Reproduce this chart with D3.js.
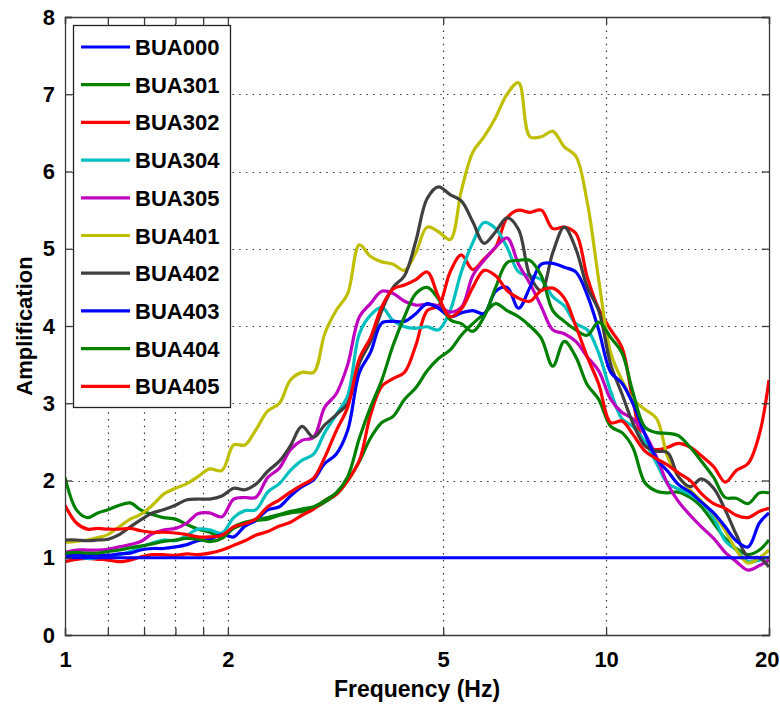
<!DOCTYPE html>
<html>
<head>
<meta charset="utf-8">
<script src="https://cdn.jsdelivr.net/npm/d3@7"></script>
<style>
  html, body { margin: 0; padding: 0; background: #fff; }
  svg { display: block; font-family: "Liberation Sans", Arial, Helvetica, sans-serif; }
</style>
</head>
<body>
<div id="chart"></div>
<script>
// Site amplification spectra, one curve per station
const freqHz = [
  1.00, 1.05, 1.10, 1.15, 1.20, 1.26, 1.32, 1.38, 1.45, 1.52, 1.60, 1.68, 1.76,
  1.85, 1.95, 2.05, 2.15, 2.25, 2.37, 2.49, 2.61, 2.74, 2.88, 3.02, 3.17, 3.33,
  3.50, 3.67, 3.85, 4.04, 4.24, 4.45, 4.67, 4.90, 5.15, 5.40, 5.67, 5.95, 6.25,
  6.56, 6.89, 7.23, 7.59, 7.97, 8.37, 8.79, 9.23, 9.69, 10.2, 10.7, 11.2, 11.8,
  12.4, 13.0, 13.6, 14.3, 15.0, 15.8, 16.6, 17.4, 18.3, 19.2, 20.0
];

const bua000Freq = [1, 20];
const bua000 = [1.0, 1.0];

const bua301 = [
  2.04, 1.62, 1.52, 1.58, 1.62, 1.68, 1.71, 1.62, 1.56, 1.52, 1.50, 1.43, 1.37,
  1.33, 1.27, 1.38, 1.44, 1.48, 1.50, 1.55, 1.58, 1.60, 1.64, 1.72, 1.82, 2.00,
  2.25, 2.55, 2.75, 2.83, 3.05, 3.20, 3.42, 3.58, 3.69, 3.88, 4.03, 4.16, 4.29,
  4.20, 4.12, 4.00, 3.84, 3.48, 3.80, 3.60, 3.24, 3.05, 2.70, 2.62, 2.43, 1.97,
  1.86, 1.84, 1.85, 1.78, 1.66, 1.45, 1.25, 1.12, 1.04, 1.10, 1.23
];

const bua302 = [
  0.95, 0.98, 0.99, 0.98, 0.97, 0.95, 0.97, 1.01, 1.04, 1.04, 1.03, 1.05, 1.04,
  1.06, 1.10, 1.16, 1.22, 1.29, 1.34, 1.41, 1.46, 1.55, 1.63, 1.74, 1.82, 2.00,
  2.26, 2.85, 3.22, 3.32, 3.40, 3.75, 4.20, 4.26, 4.70, 4.92, 4.73, 4.87, 5.02,
  5.40, 5.50, 5.47, 5.50, 5.26, 5.28, 5.20, 4.63, 4.22, 3.95, 3.72, 3.05, 2.45,
  2.40, 2.43, 2.48, 2.43, 2.32, 2.18, 1.98, 2.13, 2.22, 2.60, 3.30
];

const bua304 = [
  1.05, 1.02, 0.99, 1.00, 1.02, 1.04, 1.08, 1.14, 1.19, 1.23, 1.22, 1.29, 1.37,
  1.36, 1.32, 1.52, 1.61, 1.62, 1.85, 1.96, 2.13, 2.26, 2.34, 2.62, 2.85, 3.10,
  3.90, 4.14, 4.24, 4.07, 3.99, 3.97, 3.99, 3.95, 4.20, 4.70, 5.08, 5.34, 5.26,
  5.02, 4.70, 4.65, 4.60, 4.38, 4.26, 4.03, 3.95, 3.65, 3.15, 2.80, 2.70, 2.50,
  2.22, 1.96, 1.89, 1.82, 1.72, 1.52, 1.22, 1.10, 0.95, 0.97, 1.01
];

const bua305 = [
  1.07, 1.10, 1.10, 1.10, 1.11, 1.14, 1.17, 1.21, 1.31, 1.36, 1.38, 1.45, 1.57,
  1.58, 1.53, 1.76, 1.78, 1.78, 2.04, 2.16, 2.40, 2.52, 2.56, 2.95, 3.12, 3.50,
  4.12, 4.29, 4.45, 4.42, 4.32, 4.27, 4.28, 4.26, 4.18, 4.24, 4.65, 4.85, 5.02,
  5.14, 4.80, 4.55, 4.25, 3.95, 3.90, 3.80, 3.60, 3.42, 3.05, 2.88, 2.80, 2.60,
  2.30, 1.95, 1.73, 1.55, 1.40, 1.25, 1.07, 0.95, 0.84, 0.90, 0.97
];

const bua401 = [
  1.20, 1.21, 1.23, 1.26, 1.30, 1.40, 1.50, 1.56, 1.68, 1.82, 1.90, 1.96, 2.05,
  2.15, 2.13, 2.46, 2.46, 2.65, 2.90, 3.00, 3.30, 3.40, 3.40, 3.90, 4.20, 4.42,
  5.05, 4.90, 4.83, 4.80, 4.72, 4.95, 5.28, 5.22, 5.12, 5.75, 6.25, 6.45, 6.70,
  7.00, 7.15, 6.45, 6.45, 6.52, 6.32, 6.20, 5.60, 4.60, 3.65, 3.30, 3.05, 2.92,
  2.80, 2.30, 2.05, 1.88, 1.73, 1.57, 1.35, 1.10, 0.93, 1.00, 1.10
];

const bua402 = [
  1.23, 1.23, 1.22, 1.23, 1.24, 1.30, 1.40, 1.49, 1.58, 1.62, 1.68, 1.75, 1.76,
  1.76, 1.80, 1.90, 1.88, 1.95, 2.12, 2.25, 2.45, 2.70, 2.56, 2.72, 2.85, 3.00,
  3.52, 3.80, 4.20, 4.50, 4.65, 5.10, 5.65, 5.80, 5.70, 5.62, 5.35, 5.07, 5.22,
  5.40, 5.25, 4.65, 4.46, 4.95, 5.28, 5.00, 4.50, 4.20, 3.50, 3.12, 2.75, 2.45,
  2.38, 2.36, 2.05, 1.92, 2.02, 1.90, 1.62, 1.30, 1.01, 1.00, 0.88
];

const bua403 = [
  1.02, 1.04, 1.03, 1.04, 1.03, 1.05, 1.06, 1.10, 1.12, 1.12, 1.14, 1.17, 1.22,
  1.24, 1.30, 1.27, 1.41, 1.48, 1.62, 1.66, 1.80, 1.92, 2.01, 2.22, 2.34, 2.65,
  3.40, 3.66, 4.04, 4.06, 4.06, 4.16, 4.29, 4.23, 4.12, 4.17, 4.20, 4.16, 4.45,
  4.50, 4.23, 4.50, 4.80, 4.81, 4.76, 4.70, 4.40, 3.95, 3.40, 3.26, 3.00, 2.60,
  2.28, 2.12, 1.95, 1.85, 1.72, 1.58, 1.40, 1.22, 1.14, 1.45, 1.58
];

const bua404 = [
  1.06, 1.07, 1.06, 1.06, 1.08, 1.10, 1.13, 1.15, 1.18, 1.21, 1.23, 1.25, 1.24,
  1.21, 1.25, 1.40, 1.46, 1.49, 1.52, 1.56, 1.60, 1.63, 1.66, 1.74, 1.84, 2.05,
  2.55, 2.95, 3.30, 3.75, 4.12, 4.42, 4.50, 4.35, 4.08, 4.03, 3.93, 4.12, 4.50,
  4.82, 4.85, 4.85, 4.65, 4.20, 4.06, 3.95, 3.88, 4.05, 3.85, 3.65, 3.15, 2.69,
  2.62, 2.61, 2.58, 2.43, 2.25, 2.04, 1.78, 1.77, 1.70, 1.84, 1.84
];

const bua405 = [
  1.68, 1.45, 1.37, 1.38, 1.37, 1.37, 1.38, 1.35, 1.33, 1.33, 1.32, 1.30, 1.27,
  1.27, 1.29, 1.40, 1.44, 1.50, 1.66, 1.75, 1.85, 1.94, 2.03, 2.30, 2.64, 2.95,
  3.58, 3.85, 4.25, 4.48, 4.53, 4.60, 4.70, 4.38, 4.12, 4.22, 4.50, 4.72, 4.65,
  4.46, 4.36, 4.32, 4.46, 4.49, 4.36, 4.00, 3.60, 3.25, 2.75, 2.77, 2.60, 2.38,
  2.28, 2.20, 2.10, 2.00, 1.83, 1.70, 1.64, 1.55, 1.52, 1.60, 1.64
];

const stationNames = ["BUA000", "BUA301", "BUA302", "BUA304", "BUA305",
                      "BUA401", "BUA402", "BUA403", "BUA404", "BUA405"];
const stationColors = ["#0000ff", "#008000", "#ff0000", "#00bfbf", "#bf00bf",
                       "#bfbf00", "#404040", "#0000ff", "#008000", "#ff0000"];

const xTicks = [1, 1.2, 1.4, 1.6, 1.8, 2, 5, 10, 20];
const xTickLabels = ["1", "", "", "", "", "2", "5", "10", "20"];
const yTicks = [0, 1, 2, 3, 4, 5, 6, 7, 8];

const series = [
  { name: stationNames[0], color: stationColors[0], freq: bua000Freq, amp: bua000 },
  { name: stationNames[1], color: stationColors[1], freq: freqHz, amp: bua301 },
  { name: stationNames[2], color: stationColors[2], freq: freqHz, amp: bua302 },
  { name: stationNames[3], color: stationColors[3], freq: freqHz, amp: bua304 },
  { name: stationNames[4], color: stationColors[4], freq: freqHz, amp: bua305 },
  { name: stationNames[5], color: stationColors[5], freq: freqHz, amp: bua401 },
  { name: stationNames[6], color: stationColors[6], freq: freqHz, amp: bua402 },
  { name: stationNames[7], color: stationColors[7], freq: freqHz, amp: bua403 },
  { name: stationNames[8], color: stationColors[8], freq: freqHz, amp: bua404 },
  { name: stationNames[9], color: stationColors[9], freq: freqHz, amp: bua405 }
];

const width = 780;
const height = 704;
const margin = { top: 17, right: 11, bottom: 69, left: 65 };

const svg = d3.select("#chart")
  .append("svg")
  .attr("width", width)
  .attr("height", height);

svg.append("rect")
  .attr("width", width)
  .attr("height", height)
  .attr("fill", "#fff");

const x = d3.scaleLog()
  .domain([1, 20])
  .range([margin.left, width - margin.right]);

const y = d3.scaleLinear()
  .domain([0, 8])
  .range([height - margin.bottom, margin.top]);

const plotLeft = margin.left;
const plotRight = width - margin.right;
const plotTop = margin.top;
const plotBottom = height - margin.bottom;

// dotted grid
const grid = svg.append("g")
  .attr("stroke", "#333")
  .attr("stroke-width", 1.2)
  .attr("stroke-dasharray", "1.5,5.2");

grid.selectAll("line.gx")
  .data(xTicks.filter(t => t > 1 && t < 20))
  .join("line")
  .attr("class", "gx")
  .attr("x1", d => Math.round(x(d)) + 0.5)
  .attr("x2", d => Math.round(x(d)) + 0.5)
  .attr("y1", plotTop)
  .attr("y2", plotBottom);

grid.selectAll("line.gy")
  .data(yTicks.filter(t => t > 0 && t < 8))
  .join("line")
  .attr("class", "gy")
  .attr("x1", plotLeft)
  .attr("x2", plotRight)
  .attr("y1", d => Math.round(y(d)) + 0.5)
  .attr("y2", d => Math.round(y(d)) + 0.5);

// curves
const line = d3.line()
  .x(d => x(d[0]))
  .y(d => y(d[1]))
  .curve(d3.curveCatmullRom.alpha(0.5));

svg.append("clipPath")
  .attr("id", "plot-clip")
  .append("rect")
  .attr("x", plotLeft)
  .attr("y", plotTop)
  .attr("width", plotRight - plotLeft)
  .attr("height", plotBottom - plotTop);

const drawOrder = series.slice(1).concat(series[0]);

svg.append("g")
  .attr("clip-path", "url(#plot-clip)")
  .selectAll("path")
  .data(drawOrder)
  .join("path")
  .attr("fill", "none")
  .attr("stroke", d => d.color)
  .attr("stroke-width", 3.2)
  .attr("stroke-linejoin", "round")
  .attr("d", d => line(d.freq.map((f, i) => [f, d.amp[i]])));

// axes box with inward ticks on all four sides
const tickLen = 7;
const axisColor = "#3a3a3a";

const xAxisBottom = d3.axisBottom(x)
  .tickValues(xTicks)
  .tickSize(-tickLen)
  .tickPadding(tickLen + 9)
  .tickFormat((d, i) => xTickLabels[i]);

const xAxisTop = d3.axisTop(x)
  .tickValues(xTicks)
  .tickSize(-tickLen)
  .tickFormat("");

const yAxisLeft = d3.axisLeft(y)
  .tickValues(yTicks)
  .tickSize(-tickLen)
  .tickPadding(tickLen + 3)
  .tickFormat(d3.format("d"));

const yAxisRight = d3.axisRight(y)
  .tickValues(yTicks)
  .tickSize(-tickLen)
  .tickFormat("");

function styleAxis(g) {
  g.select(".domain").attr("stroke", axisColor).attr("stroke-width", 1.3);
  g.selectAll(".tick line").attr("stroke", axisColor).attr("stroke-width", 1.3);
  g.selectAll(".tick text")
    .attr("fill", "#000")
    .style("font-size", "22px")
    .style("font-weight", "bold");
}

const xAxisG = svg.append("g")
  .attr("transform", `translate(0,${plotBottom})`)
  .call(xAxisBottom)
  .call(styleAxis);

// keep the last label inside the canvas
xAxisG.selectAll(".tick text")
  .filter(d => d === 20)
  .attr("text-anchor", "end")
  .attr("dx", 10);

svg.append("g")
  .attr("transform", `translate(0,${plotTop})`)
  .call(xAxisTop)
  .call(styleAxis);

svg.append("g")
  .attr("transform", `translate(${plotLeft},0)`)
  .call(yAxisLeft)
  .call(styleAxis);

svg.append("g")
  .attr("transform", `translate(${plotRight},0)`)
  .call(yAxisRight)
  .call(styleAxis);

svg.selectAll(".domain").attr("fill", "none");

// axis titles
svg.append("text")
  .attr("x", (plotLeft + plotRight) / 2)
  .attr("y", 697)
  .attr("text-anchor", "middle")
  .style("font-size", "23px")
  .style("font-weight", "bold")
  .text("Frequency (Hz)");

svg.append("text")
  .attr("transform", `translate(32,${(plotTop + plotBottom) / 2}) rotate(-90)`)
  .attr("text-anchor", "middle")
  .style("font-size", "22px")
  .style("font-weight", "bold")
  .text("Amplification");

// legend
const legend = svg.append("g");
const legendX = 73;
const legendY = 25;
const legendW = 157;
const legendRow = 37.7;

legend.append("rect")
  .attr("x", legendX + 0.5)
  .attr("y", legendY + 0.5)
  .attr("width", legendW)
  .attr("height", 382)
  .attr("fill", "#fff")
  .attr("stroke", "#222")
  .attr("stroke-width", 1.3);

const entries = legend.selectAll("g.entry")
  .data(series)
  .join("g")
  .attr("class", "entry")
  .attr("transform", (d, i) => `translate(${legendX},${legendY + 22 + i * legendRow})`);

entries.append("line")
  .attr("x1", 8)
  .attr("x2", 57)
  .attr("stroke", d => d.color)
  .attr("stroke-width", 3.2);

entries.append("text")
  .attr("x", 62)
  .attr("y", 8)
  .style("font-size", "22px")
  .style("font-weight", "bold")
  .text(d => d.name);
</script>
</body>
</html>
